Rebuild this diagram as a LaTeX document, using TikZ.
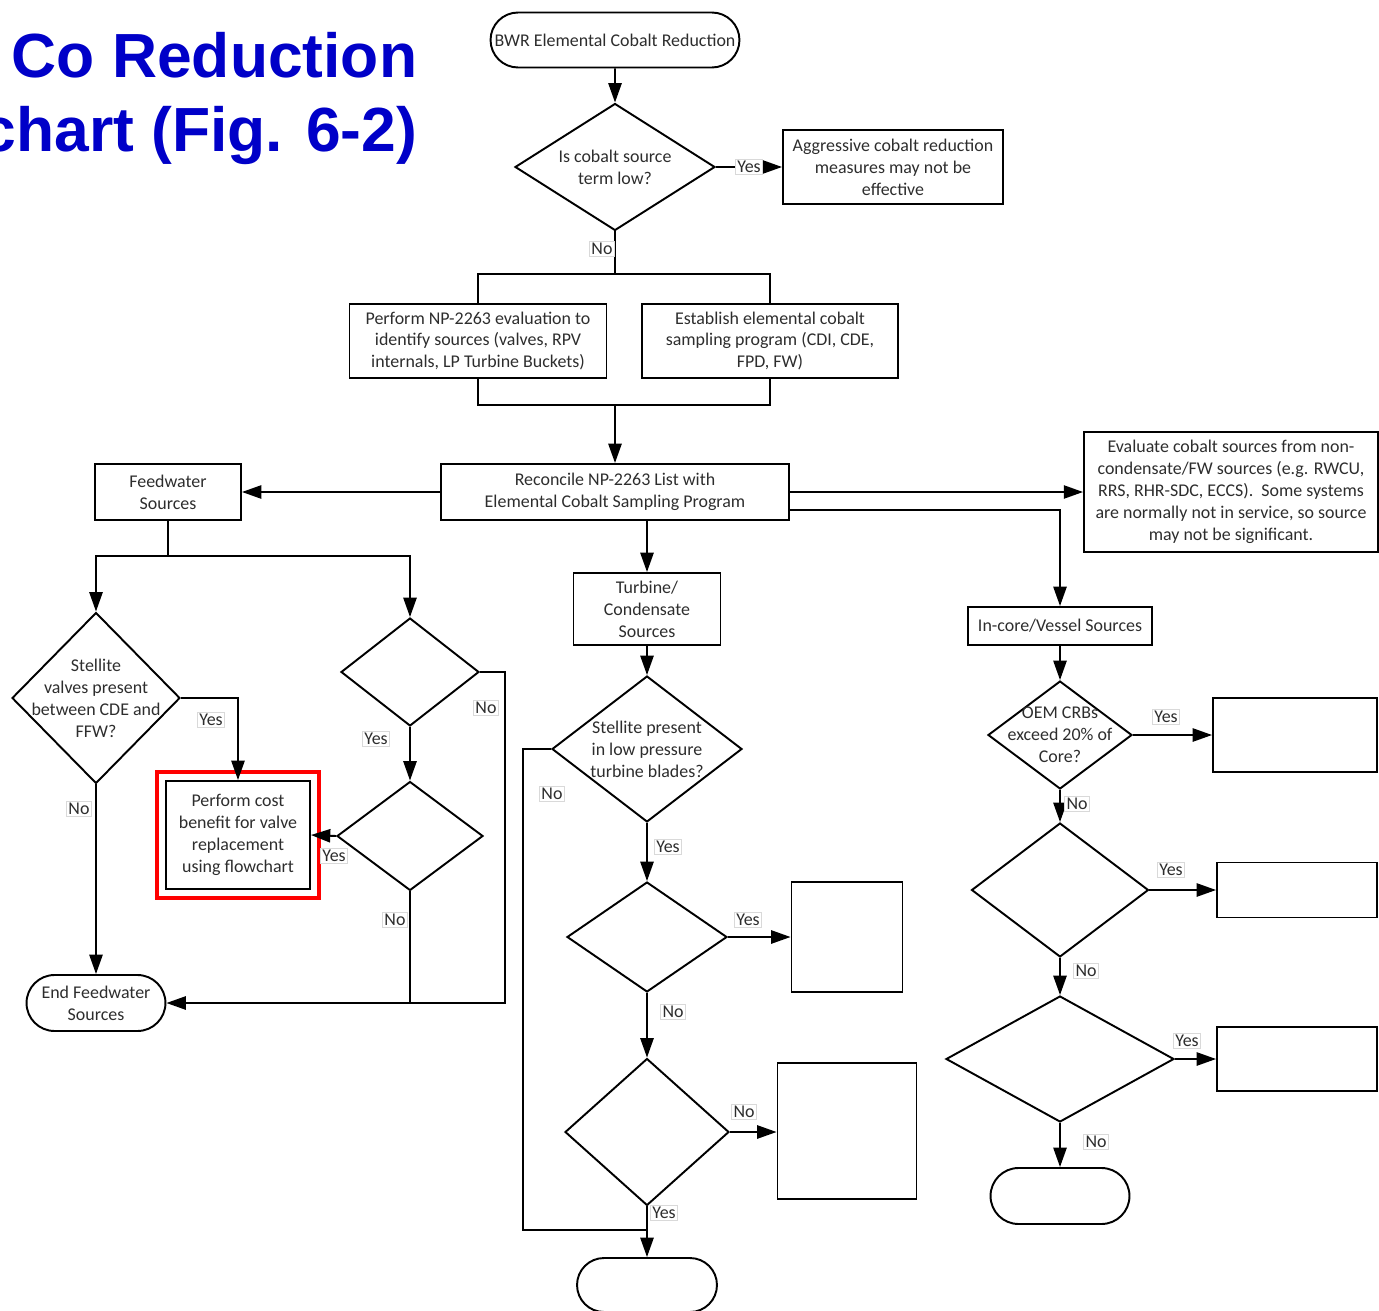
\documentclass[tikz,border=0pt]{standalone}
\usepackage{fontspec}
\setmainfont{Carlito}
\newfontfamily\titlefont{Liberation Sans}
\usetikzlibrary{arrows.meta,shapes.geometric,shapes.misc,fit}
\definecolor{titleblue}{RGB}{0,0,200}
\definecolor{txtgray}{RGB}{45,45,45}

\begin{document}
\begin{tikzpicture}[x=0.02cm,y=-0.02cm,>={Triangle[length=11pt,width=7.5pt]},line width=1.1pt,
  every node/.style={font=\fontsize{10.2pt}{12.5pt}\selectfont,text=txtgray},
  proc/.style={rectangle,draw,align=center,inner sep=2pt},
  term/.style={rounded rectangle,draw,align=center,inner sep=2pt},
  dia/.style={diamond,draw,inner sep=0pt},
  dtxt/.style={align=center,inner sep=0pt},
  lbl/.style={fill=white,draw=black!15,line width=0.3pt,inner sep=1pt},
  title/.style={font=\titlefont\bfseries\fontsize{35.5pt}{44pt}\selectfont,text=titleblue,anchor=base east}]

  \useasboundingbox (0,0) rectangle (1379,1311);
  \clip (0,0) rectangle (1379,1311);

  % title
  \node[title] (ttl1) at (424,78) {Co Reduction};
  \node[title] (ttl2) at (424,152) {chart (Fig. 6-2)};

  % top part
  \node[term,minimum width=5.12cm,minimum height=1.1cm] (start) at (615,40) {BWR Elemental Cobalt Reduction};
  \node[dia,minimum width=4cm,minimum height=2.54cm,label={[dtxt]center:Is cobalt source\\term low?}] (q1) at (615,167) {};
  \node[proc,minimum width=4.4cm,minimum height=1.48cm] (aggr) at (893,167) {Aggressive cobalt reduction\\measures may not be\\effective};
  \node[proc,minimum width=5.14cm,minimum height=1.48cm] (np) at (478,341) {Perform NP-2263 evaluation to\\identify sources (valves, RPV\\internals, LP Turbine Buckets)};
  \node[proc,minimum width=5.12cm,minimum height=1.48cm] (est) at (770,341) {Establish elemental cobalt\\sampling program (CDI, CDE,\\FPD, FW)};
  \node[proc,minimum width=6.96cm,minimum height=1.12cm] (rec) at (615,492) {Reconcile NP-2263 List with\\Elemental Cobalt Sampling Program};
  \node[proc,minimum width=5.88cm,minimum height=2.4cm] (eval) at (1231,492) {Evaluate cobalt sources from non-\\condensate/FW sources (e.g. RWCU,\\RRS, RHR-SDC, ECCS).\ \ Some systems\\are normally not in service, so source\\may not be significant.};

  % feedwater branch
  \node[proc,minimum width=2.92cm,minimum height=1.12cm] (fw) at (168,492) {Feedwater\\Sources};
  \node[dia,minimum width=3.36cm,minimum height=3.42cm,label={[dtxt]center:Stellite\\valves present\\between CDE and\\FFW?}] (q2) at (96,698) {};
  \node[proc,minimum width=2.88cm,minimum height=2.16cm] (cost) at (238,835) {Perform cost\\benefit for valve\\replacement\\using flowchart};
  \node[fit=(cost),draw=red,line width=2.3pt,inner sep=0.17cm] (mark) {};
  \node[term,minimum width=2.92cm,minimum height=1.12cm] (endfw) at (96,1003) {End Feedwater\\Sources};
  \node[dia,minimum width=2.76cm,minimum height=2.16cm] (qa) at (410,672) {};
  \node[dia,minimum width=2.92cm,minimum height=2.18cm] (qb) at (410,836) {};

  % turbine branch
  \node[proc,minimum width=2.94cm,minimum height=1.44cm] (turb) at (647,609) {Turbine/\\Condensate\\Sources};
  \node[dia,minimum width=3.8cm,minimum height=2.92cm,label={[dtxt]center:Stellite present\\in low pressure\\turbine blades?}] (q4) at (647,749) {};
  \node[dia,minimum width=3.2cm,minimum height=2.2cm] (q5) at (647,937) {};
  \node[proc,minimum width=2.22cm,minimum height=2.2cm] (b5) at (847,937) {};
  \node[dia,minimum width=3.28cm,minimum height=2.94cm] (q6) at (647,1132) {};
  \node[proc,minimum width=2.78cm,minimum height=2.72cm] (b6) at (847,1131) {};
  \node[term,minimum width=2.94cm,minimum height=1.08cm] (endtc) at (647,1285) {};

  % in-core branch
  \node[proc,minimum width=3.68cm,minimum height=0.76cm] (core) at (1060,626) {In-core/Vessel Sources};
  \node[dia,minimum width=2.88cm,minimum height=2.16cm,label={[dtxt]center:OEM CRBs\\exceed 20\% of\\Core?}] (q7) at (1060,735) {};
  \node[proc,minimum width=3.28cm,minimum height=1.48cm] (b7) at (1295,735) {};
  \node[dia,minimum width=3.54cm,minimum height=2.68cm] (q8) at (1060,890) {};
  \node[proc,minimum width=3.2cm,minimum height=1.1cm] (b8) at (1297,890) {};
  \node[dia,minimum width=4.56cm,minimum height=2.52cm] (q9) at (1060,1059) {};
  \node[proc,minimum width=3.2cm,minimum height=1.28cm] (b9) at (1297,1059) {};
  \node[term,minimum width=2.92cm,minimum height=1.12cm] (endcore) at (1060,1196) {};

  % junctions
  \coordinate (jA) at (615,274);
  \coordinate (jB) at (615,405);
  \coordinate (jC) at (168,556);
  \coordinate (jD) at (505,1003);
  \coordinate (jF) at (523,1230);
  \coordinate (jE) at (647,1230);

  % connectors
  \draw[->] (start) -- (q1);
  \draw[->] (q1.east) -- (aggr.west);
  \draw (q1.south) -- (jA);
  \draw (np.north) |- (jA) -| (est.north);
  \draw (np.south) |- (jB) -| (est.south);
  \draw[->] (jB) -- (rec.north);
  \draw[->] (rec.west) -- (fw.east);
  \draw[->] (rec.east) -- (eval.west);
  \draw[->] ([yshift=-0.36cm]rec.east) -| (core.north);
  \draw[->] (rec.south -| turb.north) -- (turb.north);

  \draw (fw.south) -- (jC);
  \draw[->] (jC) -| (q2.north);
  \draw[->] (jC) -| (qa.north);
  \draw[->] (q2.east) -| (cost.north);
  \draw[->] (q2.south) -- (endfw.north);
  \draw[->] (qa.east) -| (jD) -- (endfw.east);
  \draw[->] (qa.south) -- (qb.north);
  \draw[->] (qb.west) -- (cost.east);
  \draw (qb.south) -- (qb.south |- jD);

  \draw[->] (turb) -- (q4);
  \draw (q4.west) -| (jF) -- (jE);
  \draw[->] (q4.south) -- (q5.north);
  \draw[->] (q5.east) -- (b5.west);
  \draw[->] (q5.south) -- (q6.north);
  \draw[->] (q6.east) -- (b6.west |- q6.east);
  \draw[->] (q6.south) -- (endtc.north);

  \draw[->] (core) -- (q7);
  \draw[->] (q7.east) -- (b7.west);
  \draw[->] (q7.south) -- (q8.north);
  \draw[->] (q8.east) -- (b8.west);
  \draw[->] (q8.south) -- (q9.north);
  \draw[->] (q9.east) -- (b9.west);
  \draw[->] (q9.south) -- (endcore.north);

  % branch labels
  \node[lbl] (y1) at (749,167) {Yes};
  \node[lbl] (n1) at (602,249) {No};
  \node[lbl] (y2) at (211,720) {Yes};
  \node[lbl] (n2) at (79,809) {No};
  \node[lbl] (na) at (486,708) {No};
  \node[lbl] (ya) at (376,739) {Yes};
  \node[lbl] (yb) at (334,856) {Yes};
  \node[lbl] (nb) at (395,920) {No};
  \node[lbl] (n4) at (552,794) {No};
  \node[lbl] (y4) at (668,847) {Yes};
  \node[lbl] (y5) at (748,920) {Yes};
  \node[lbl] (n5) at (673,1012) {No};
  \node[lbl] (n6) at (744,1112) {No};
  \node[lbl] (y6) at (664,1213) {Yes};
  \node[lbl] (y7) at (1166,717) {Yes};
  \node[lbl] (n7) at (1077,804) {No};
  \node[lbl] (y8) at (1171,870) {Yes};
  \node[lbl] (n8) at (1086,971) {No};
  \node[lbl] (y9) at (1187,1041) {Yes};
  \node[lbl] (n9) at (1096,1142) {No};
\end{tikzpicture}
\end{document}
